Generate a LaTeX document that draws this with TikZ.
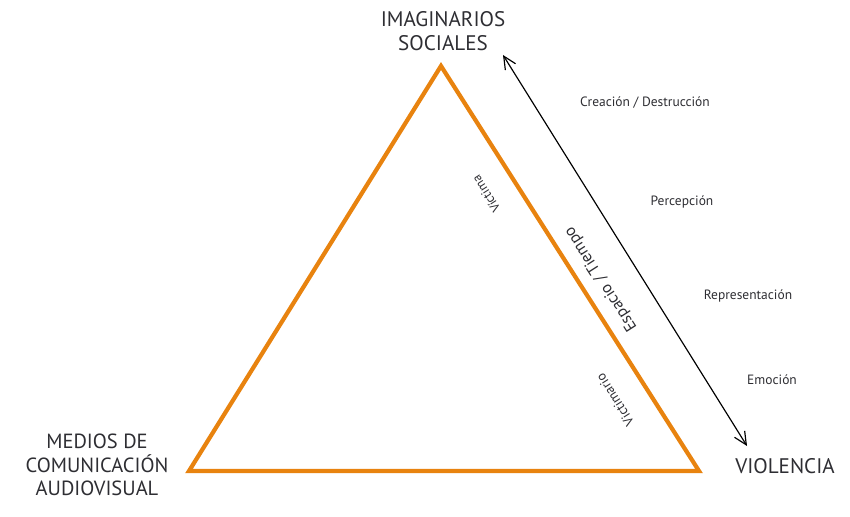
\documentclass[tikz,border=0pt]{standalone}
\usepackage{fontspec}
\setmainfont{PT Sans}
\usetikzlibrary{positioning, arrows.meta}
\definecolor{triorange}{HTML}{E8830F}
\definecolor{labelgray}{HTML}{2E2E33}
\tikzset{>={Straight Barb[length=3.8mm, width=3.6mm]}, x=0.03cm, y=-0.03cm}

\begin{document}
\begin{tikzpicture}[vertex_label/.style={text=labelgray, font=\fontsize{18}{20}\selectfont, align=center, inner sep=0pt},
side_label/.style={text=labelgray, font=\fontsize{11.5}{13}\selectfont, inner sep=0pt},
edge_label/.style={text=labelgray, rotate=122.6, inner sep=0pt}]
    \useasboundingbox (0,0) rectangle (850,517);
    \coordinate (top) at (441,66);
    \coordinate (left) at (189,471);
    \coordinate (right) at (699,471);
    \draw[triorange, line width=3.6pt, line join=miter] (top) -- (right) -- (left) -- cycle;

    \node[vertex_label] (social) at (443,31) {IMAGINARIOS\\SOCIALES};
    \node[vertex_label, font=\fontsize{17.5}{20}\selectfont] (medios) at (97,465) {MEDIOS DE\\COMUNICACIÓN\\AUDIOVISUAL};
    \node[vertex_label] (violencia) at (785,466) {VIOLENCIA};

    \coordinate (arr_top) at (503,55);
    \coordinate (arr_bottom) at (747,446);
    \draw[<->, line width=1pt, black] (arr_top) -- (arr_bottom);

    \node[side_label] (creacion) at (645,103) {Creación / Destrucción};
    \node[side_label] (percepcion) at (682,202) {Percepción};
    \node[side_label] (representacion) at (748,296) {Representación};
    \node[side_label] (emocion) at (772,380) {Emoción};

    \node[edge_label, font=\fontsize{14}{16}\selectfont] (espacio) at (601,279) {Espacio / Tiempo};
    \node[edge_label, font=\fontsize{11}{12}\selectfont] (victima) at (486,194) {Víctima};
    \node[edge_label, font=\fontsize{11.5}{12}\selectfont] (victimario) at (615,400) {Victimario};
\end{tikzpicture}
\end{document}
